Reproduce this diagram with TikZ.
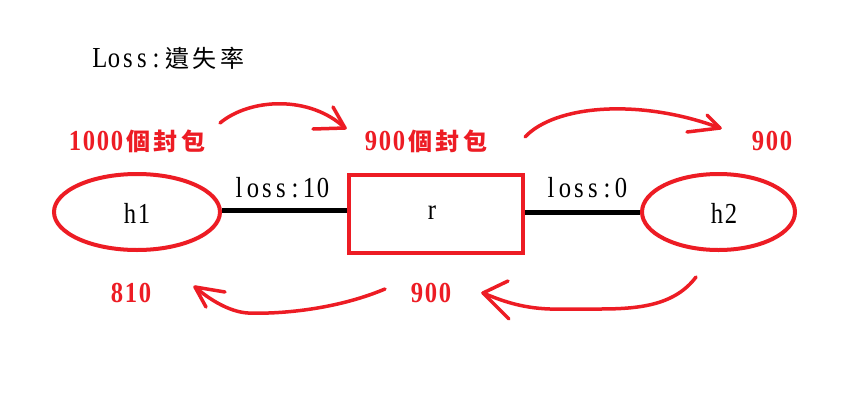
\documentclass[tikz,border=0pt]{standalone}
\usepackage{fontspec}
\usepackage{graphicx}
\setmainfont{Liberation Serif}
\newfontfamily\cjkfont{Noto Sans CJK TC}
\usetikzlibrary{shapes.geometric}
\definecolor{pred}{HTML}{ED1C24}
\newcommand\hcx[1]{\makebox[14pt][c]{\scalebox{0.85}[1]{\fontsize{29pt}{32pt}\selectfont #1}}}
\newcommand\fcx[1]{\makebox[28pt][c]{\fontsize{24pt}{28pt}\selectfont\cjkfont #1}}
\tikzset{
  host/.style={ellipse, draw=pred, line width=4pt, inner sep=0pt},
  router/.style={rectangle, draw=pred, line width=4pt, inner sep=0pt, minimum width=174pt, minimum height=78pt},
  link/.style={line width=5pt, black},
  flow/.style={pred, line width=3.5pt, line cap=round, line join=round},
  lbl/.style={inner sep=0pt, text=black},
  cnt/.style={inner sep=0pt, text=pred, font=\bfseries},
}
\begin{document}
\begin{tikzpicture}[x=1pt,y=-1pt]
\useasboundingbox (0,0) rectangle (845,407);
\fill[white] (0,0) rectangle (845,407);

% title
\node[lbl] (title) at (170,58) {\hcx{L}\hcx{o}\hcx{s}\hcx{s}\hcx{:}\fcx{遺}\fcx{失}\fcx{率}};

% nodes
\node[host, minimum width=166pt, minimum height=76pt] (h1) at (137,212) {};
\node[router] (r) at (436,214) {};
\node[host, minimum width=153pt, minimum height=76pt] (h2) at (718.5,212) {};
\node[lbl] (h1t) at (137,213) {\hcx{h}\hcx{1}};
\node[lbl] (rt) at (432,213) {\hcx{r}};
\node[lbl] (h2t) at (724,213) {\hcx{h}\hcx{2}};

% links
\draw[link] (h1.east |- 0,210) -- (r.west |- 0,210);
\draw[link] (r.east |- 0,212) -- (h2.west |- 0,212);
\node[lbl] (l1) at (281,188) {\hcx{l}\hcx{o}\hcx{s}\hcx{s}\hcx{:}\hcx{1}\hcx{0}};
\node[lbl] (l2) at (586,188) {\hcx{l}\hcx{o}\hcx{s}\hcx{s}\hcx{:}\hcx{0}};

% counts
\node[cnt] (c1) at (138,141) {\hcx{1}\hcx{0}\hcx{0}\hcx{0}\fcx{\bfseries 個}\fcx{\bfseries 封}\fcx{\bfseries 包}};
\node[cnt] (c2) at (427,141) {\hcx{9}\hcx{0}\hcx{0}\fcx{\bfseries 個}\fcx{\bfseries 封}\fcx{\bfseries 包}};
\node[cnt] (c3) at (772,141) {\hcx{9}\hcx{0}\hcx{0}};
\node[cnt] (c4) at (131,293) {\hcx{8}\hcx{1}\hcx{0}};
\node[cnt] (c5) at (431,293) {\hcx{9}\hcx{0}\hcx{0}};

% hand drawn arrows
\coordinate (a1s) at (220,123); \coordinate (a1t) at (345,128);
\draw[flow] (a1s) .. controls (250,98) and (310,95) .. (a1t);
\draw[flow] (333,107) -- (a1t) -- (313,129);

\coordinate (a2s) at (525,137); \coordinate (a2t) at (720,128);
\draw[flow] (a2s) .. controls (555,105) and (640,98) .. (a2t);
\draw[flow] (707,115) -- (a2t) -- (687,132);

\coordinate (a3s) at (696,277); \coordinate (a3t) at (483,293);
\draw[flow] (a3s) .. controls (675,305) and (640,309) .. (600,309) -- (550,309) .. controls (520,308) and (500,300) .. (a3t);
\draw[flow] (508,281) -- (a3t) -- (509,319);

\coordinate (a4s) at (385,289); \coordinate (a4t) at (195,287);
\draw[flow] (a4s) .. controls (330,312) and (270,314) .. (248,313) .. controls (230,312) and (210,300) .. (a4t);
\draw[flow] (225,292) -- (a4t) -- (206,307);
\end{tikzpicture}
\end{document}
